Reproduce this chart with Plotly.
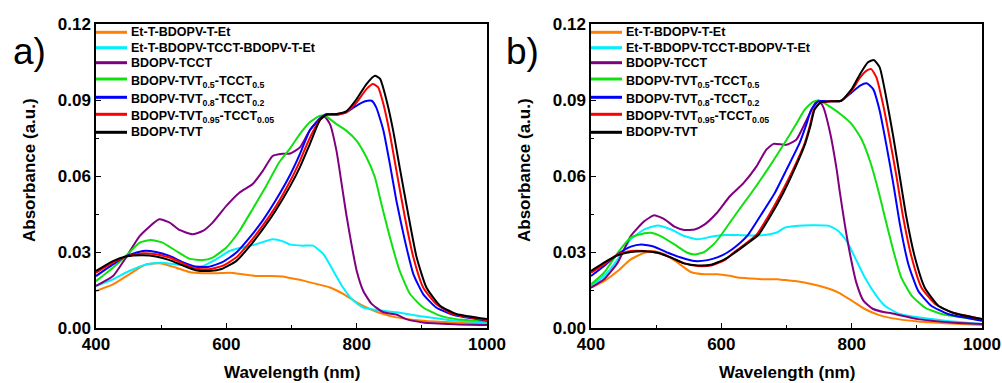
import plotly.graph_objects as go

# ---------------- names / colours ----------------
names = [
    "Et-T-BDOPV-T-Et",
    "Et-T-BDOPV-TCCT-BDOPV-T-Et",
    "BDOPV-TCCT",
    "BDOPV-TVT<sub>0.5</sub>-TCCT<sub>0.5</sub>",
    "BDOPV-TVT<sub>0.8</sub>-TCCT<sub>0.2</sub>",
    "BDOPV-TVT<sub>0.95</sub>-TCCT<sub>0.05</sub>",
    "BDOPV-TVT",
]
colors = ["#FF8000", "#00F0FF", "#800080", "#10E010", "#0000FF", "#FF0000", "#000000"]

# ---------------- panel a ----------------
a_orange_x = [400,426,451,477,500,523,543,564,584,605,625,646,666,686,698,718,738,759,780,800,820,841,861,902,953,1000]
a_orange_y = [0.0146,0.0172,0.0212,0.0251,0.0255,0.0238,0.0221,0.0216,0.0216,0.0218,0.0212,0.0205,0.0205,0.0203,0.0197,0.0187,0.0174,0.016,0.0134,0.0101,0.0075,0.0055,0.0042,0.0029,0.0022,0.0018]

a_cyan_x = [400,426,451,477,500,523,543,564,584,605,625,646,671,686,698,718,733,749,764,779,795,810,830,861,902,943,1000]
a_cyan_y = [0.0166,0.0192,0.0225,0.0251,0.0258,0.0251,0.0245,0.0245,0.0271,0.0304,0.0318,0.0331,0.035,0.0343,0.0329,0.0325,0.0325,0.0292,0.0226,0.016,0.0108,0.0081,0.0071,0.0062,0.0045,0.0031,0.0022]

a_purple_x = [400,426,446,467,497,513,528,548,564,579,600,620,640,656,671,686,698,713,728,749,759,769,777,784,792,800,810,823,841,861,876,902,950,1000]
a_purple_y = [0.0166,0.0205,0.0278,0.0363,0.0429,0.0416,0.0387,0.037,0.0383,0.0416,0.0482,0.0534,0.0567,0.062,0.0679,0.0688,0.0689,0.0713,0.078,0.0838,0.0805,0.07,0.0568,0.045,0.0331,0.0226,0.0147,0.0095,0.0062,0.0053,0.0035,0.0022,0.0015,0.0012]

a_green_x = [400,426,446,467,484,502,523,543,564,579,600,620,640,661,681,698,713,728,744,754,769,784,800,815,828,838,851,866,882,902,928,953,1000]
a_green_y = [0.0185,0.0238,0.0284,0.0337,0.0347,0.0337,0.0304,0.0274,0.0268,0.0278,0.0318,0.0383,0.0468,0.056,0.0653,0.071,0.0766,0.0812,0.0838,0.0834,0.0805,0.0779,0.0739,0.0674,0.0595,0.0489,0.0358,0.0226,0.0134,0.0081,0.0049,0.0035,0.0026]

a_blue_x = [400,426,446,472,492,513,533,553,574,594,615,635,656,676,698,713,728,744,754,769,784,800,813,823,830,841,851,861,874,887,902,922,948,1000]
a_blue_y = [0.0205,0.0251,0.0284,0.0304,0.030,0.0284,0.026,0.0242,0.0242,0.026,0.0297,0.0355,0.0425,0.0505,0.0605,0.0687,0.078,0.0828,0.0845,0.0842,0.0851,0.0878,0.0895,0.0897,0.0871,0.078,0.0647,0.0502,0.0345,0.0213,0.0134,0.0081,0.0052,0.0029]

a_red_x = [400,426,446,472,492,513,533,553,574,594,615,635,656,676,698,713,728,744,754,769,784,800,815,825,833,841,851,861,874,887,902,922,948,1000]
a_red_y = [0.0218,0.0258,0.0282,0.0295,0.0291,0.0278,0.0255,0.0234,0.0232,0.0245,0.0278,0.0335,0.0405,0.048,0.058,0.066,0.075,0.0822,0.0842,0.0842,0.0851,0.0891,0.0943,0.0963,0.095,0.0884,0.0766,0.0621,0.0437,0.0279,0.016,0.0095,0.0055,0.0031]

a_black_x = [400,426,446,472,492,513,533,553,574,594,615,635,656,676,698,713,728,744,754,769,784,800,815,828,836,846,856,866,879,892,907,928,953,1000]
a_black_y = [0.0225,0.0264,0.0282,0.0287,0.0282,0.0268,0.0247,0.0228,0.0225,0.0234,0.0264,0.032,0.039,0.0465,0.056,0.0635,0.0725,0.0822,0.0842,0.0845,0.0855,0.0904,0.0963,0.0996,0.0983,0.0897,0.0779,0.0634,0.045,0.0279,0.016,0.0088,0.0055,0.0035]

# ---------------- panel b ----------------
b_orange_x = [400,420,441,461,482,495,513,533,553,574,594,615,625,646,666,686,698,718,738,759,779,800,820,841,861,902,953,1000]
b_orange_y = [0.0159,0.0185,0.0225,0.0271,0.0297,0.0304,0.0291,0.0258,0.0221,0.0212,0.0212,0.0205,0.0199,0.0195,0.0192,0.0192,0.0189,0.0184,0.0174,0.016,0.0141,0.0108,0.0075,0.0052,0.0039,0.0026,0.0018,0.0012]

b_cyan_x = [400,420,441,461,482,502,523,543,564,584,605,625,646,666,686,698,718,738,764,779,792,805,820,836,851,871,902,943,1000]
b_cyan_y = [0.0166,0.0205,0.0271,0.035,0.0389,0.0405,0.0389,0.0363,0.035,0.036,0.0367,0.0367,0.0365,0.0367,0.0378,0.0397,0.0404,0.0406,0.0404,0.0384,0.0345,0.0279,0.02,0.0134,0.0088,0.0058,0.0042,0.0029,0.0016]

b_purple_x = [400,420,441,461,482,497,513,528,543,559,574,593,613,634,654,669,680,700,715,731,744,749,756,767,777,782,790,798,807,818,833,851,861,902,953,1000]
b_purple_y = [0.0159,0.0192,0.0258,0.0363,0.0422,0.0445,0.0429,0.040,0.0387,0.0389,0.0408,0.0454,0.052,0.0572,0.0638,0.0704,0.0727,0.0723,0.0743,0.0822,0.0888,0.0898,0.0875,0.077,0.0625,0.0533,0.040,0.0285,0.0180,0.0108,0.0075,0.0062,0.0058,0.0035,0.0022,0.0016]

b_green_x = [400,420,441,461,482,492,507,528,548,559,574,590,600,623,646,672,697,713,728,740,749,756,769,784,800,815,828,841,851,864,876,892,912,938,968,1000]
b_green_y = [0.0172,0.0218,0.0297,0.0357,0.0374,0.0376,0.0363,0.033,0.0297,0.029,0.030,0.0335,0.0368,0.0452,0.0533,0.063,0.073,0.0797,0.0862,0.0892,0.0898,0.0891,0.0870,0.0842,0.0805,0.0746,0.066,0.0542,0.0437,0.0305,0.02,0.0128,0.0081,0.0055,0.0042,0.0031]

b_blue_x = [400,420,441,461,477,497,518,538,559,579,595,608,625,641,661,682,700,720,730,738,749,769,784,800,813,823,833,843,853,864,874,887,902,922,948,1000]
b_blue_y = [0.0205,0.0245,0.0291,0.0321,0.033,0.0321,0.0297,0.0278,0.0264,0.0268,0.028,0.0296,0.0328,0.0368,0.0447,0.0533,0.0625,0.073,0.080,0.0862,0.0895,0.0895,0.0897,0.093,0.0957,0.0966,0.0943,0.0858,0.0726,0.0568,0.041,0.0252,0.0147,0.0088,0.0055,0.0029]

b_red_x = [400,420,441,461,482,502,523,543,564,584,605,618,636,654,673,692,710,728,736,742,751,769,784,800,813,823,830,838,848,858,869,879,892,907,928,953,1000]
b_red_y = [0.0218,0.0251,0.0291,0.0304,0.0304,0.0297,0.0278,0.0255,0.0245,0.0247,0.0268,0.0296,0.033,0.0368,0.0445,0.0533,0.0625,0.073,0.080,0.0862,0.0888,0.0895,0.0897,0.0937,0.0989,0.1016,0.1022,0.0989,0.0884,0.0753,0.0595,0.0437,0.0279,0.016,0.0095,0.0062,0.0035]

b_black_x = [400,420,441,461,482,502,523,543,564,584,605,620,638,657,676,695,712,729,737,743,752,769,784,800,813,825,834,843,853,864,874,884,897,912,933,958,1000]
b_black_y = [0.0225,0.0258,0.0287,0.030,0.0303,0.0297,0.0278,0.0255,0.0247,0.025,0.0271,0.0296,0.033,0.0368,0.0445,0.0533,0.0625,0.073,0.080,0.0862,0.089,0.0895,0.0897,0.0943,0.1003,0.1049,0.1058,0.1029,0.091,0.0753,0.0595,0.0437,0.0279,0.016,0.0088,0.0058,0.0035]

x_ticks = [400, 600, 800, 1000]
y_ticks = [0.00, 0.03, 0.06, 0.09, 0.12]
panel_labels = ["a)", "b)"]
x_title = "Wavelength (nm)"
y_title = "Absorbance (a.u.)"

panel_a = [(a_orange_x, a_orange_y), (a_cyan_x, a_cyan_y), (a_purple_x, a_purple_y),
           (a_green_x, a_green_y), (a_blue_x, a_blue_y), (a_red_x, a_red_y), (a_black_x, a_black_y)]
panel_b = [(b_orange_x, b_orange_y), (b_cyan_x, b_cyan_y), (b_purple_x, b_purple_y),
           (b_green_x, b_green_y), (b_blue_x, b_blue_y), (b_red_x, b_red_y), (b_black_x, b_black_y)]

W, H = 1002, 383
fig = go.Figure()
FONT = "Liberation Sans, Arial, sans-serif"

for panel, xa, ya in [(panel_a, "x", "y"), (panel_b, "x2", "y2")]:
    for i, (xs, ys) in enumerate(panel):
        fig.add_trace(go.Scatter(
            x=xs, y=ys, mode="lines", name=names[i],
            line=dict(color=colors[i], width=2, shape="spline", smoothing=0.5),
            xaxis=xa, yaxis=ya, showlegend=False,
        ))

axis_common = dict(
    showline=True, linecolor="black", linewidth=1.5, mirror=True,
    ticks="inside", ticklen=5, tickwidth=1.2, tickcolor="black",
    showgrid=False, zeroline=False, automargin=False,
    tickfont=dict(family=FONT, size=17, color="black"),
)
xaxis_common = dict(axis_common, range=[400, 1000], tickvals=x_ticks,
                    ticktext=["<b>%d</b>" % v for v in x_ticks],
                    minor=dict(ticks="inside", ticklen=3, tickcolor="black", dtick=100, tick0=400, showgrid=False))
yaxis_common = dict(axis_common, range=[0, 0.12], tickvals=y_ticks,
                    ticktext=["<b>%.2f</b>" % v for v in y_ticks],
                    minor=dict(ticks="inside", ticklen=3, tickcolor="black", dtick=0.015, tick0=0, showgrid=False))

x_doms = [[96 / W, 487 / W], [591 / W, 982 / W]]
ydom = [55 / H, 359 / H]
fig.update_layout(
    width=W, height=H,
    margin=dict(l=0, r=0, t=0, b=0, autoexpand=False),
    paper_bgcolor="white", plot_bgcolor="white",
    font=dict(family=FONT, color="black"),
    xaxis=dict(xaxis_common, domain=x_doms[0], anchor="y"),
    yaxis=dict(yaxis_common, domain=ydom, anchor="x"),
    xaxis2=dict(xaxis_common, domain=x_doms[1], anchor="y2"),
    yaxis2=dict(yaxis_common, domain=ydom, anchor="x2"),
    showlegend=False,
)

# axis titles
for k, (d0, d1) in enumerate(x_doms):
    fig.add_annotation(text="<b>" + x_title + "</b>", xref="paper", yref="paper",
                       x=(d0 + d1) / 2, y=1 - 372.5 / H, xanchor="center", yanchor="middle",
                       showarrow=False, font=dict(family=FONT, size=17, color="black"))
    fig.add_annotation(text="<b>" + y_title + "</b>", xref="paper", yref="paper",
                       x=(29 + 495 * k) / W, y=1 - 170 / H, xanchor="center", yanchor="middle",
                       textangle=-90, showarrow=False, font=dict(family=FONT, size=17, color="black"))

# legend (drawn manually to match the compact spacing of the original)
legend_rows_px = [32.3, 47.7, 62.7, 79.0, 97.3, 114.3, 132.3]
legend_origins_px = [96, 591]
for x0 in legend_origins_px:
    for i, yp in enumerate(legend_rows_px):
        yf = 1 - yp / H
        fig.add_shape(type="line", xref="paper", yref="paper",
                      x0=x0 / W, x1=(x0 + 31) / W, y0=yf, y1=yf,
                      line=dict(color=colors[i], width=3))
        has_sub = "<sub>" in names[i]
        fig.add_annotation(text="<b>" + names[i] + "</b>", xref="paper", yref="paper",
                           x=(x0 + 33) / W, y=yf - (2.5 / H if has_sub else 0),
                           xanchor="left", yanchor="middle", showarrow=False,
                           font=dict(family=FONT, size=12.5, color="black"))

label_cx = [29 / W, 522 / W]
for lx, lab in zip(label_cx, panel_labels):
    fig.add_annotation(text=lab, xref="paper", yref="paper", x=lx, y=1 - 51 / H,
                       xanchor="center", yanchor="middle", showarrow=False,
                       font=dict(family=FONT, size=37, color="black"))

fig.write_html("out.html")
